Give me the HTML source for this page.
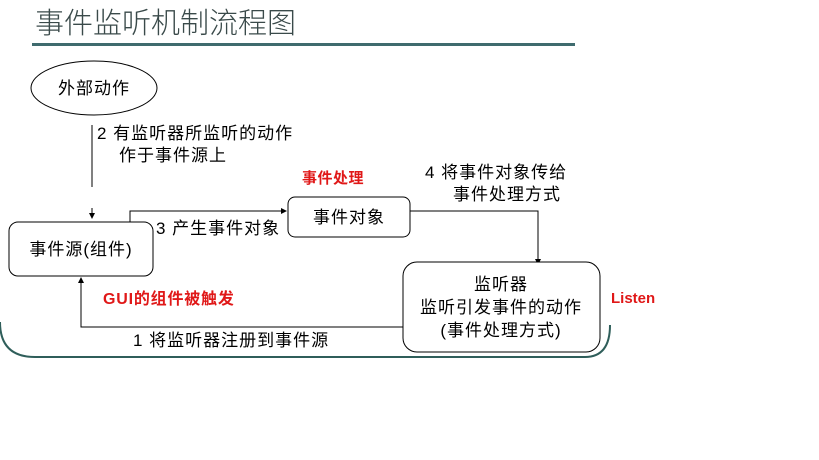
<!DOCTYPE html>
<html><head><meta charset="utf-8"><style>
html,body{margin:0;padding:0;background:#fff;}
svg{display:block;font-family:"Liberation Sans","Noto Sans CJK SC",sans-serif;}
.t{font-size:17px;letter-spacing:1px;}
</style></head><body>
<svg width="819" height="460" viewBox="0 0 819 460" xmlns="http://www.w3.org/2000/svg">
<defs><marker id="a" markerWidth="6" markerHeight="6" refX="5" refY="3" orient="auto"><path d="M0,0 L6,3 L0,6 z" fill="#000"/></marker></defs>
<text x="35" y="33" font-size="29" fill="#3a4a4a" font-family="'Noto Sans CJK SC',sans-serif" font-weight="300">事件监听机制流程图</text>
<rect x="32" y="43" width="543" height="3" fill="#3f6b6e"/>
<path d="M0,322 Q0,357 35,357 L585,357 Q610,357 610,325" fill="none" stroke="#2f5e5a" stroke-width="2"/>
<ellipse cx="94" cy="88" rx="63" ry="27" fill="#fff" stroke="#000" stroke-width="1"/>
<text x="94" y="94" class="t" text-anchor="middle">外部动作</text>
<line x1="92" y1="125" x2="92" y2="187" stroke="#000"/>
<line x1="92" y1="208" x2="92" y2="218" stroke="#000" marker-end="url(#a)"/>
<text x="97" y="139" class="t">2  有监听器所监听的动作</text>
<text x="119" y="161" class="t">作于事件源上</text>
<rect x="9" y="222" width="144" height="54" rx="9" fill="#fff" stroke="#000"/>
<text x="81" y="255" class="t" text-anchor="middle">事件源(组件)</text>
<polyline points="130,222 130,211 286,211" fill="none" stroke="#000" marker-end="url(#a)"/>
<text x="156" y="234" class="t">3 产生事件对象</text>
<rect x="288" y="197" width="122" height="40" rx="7" fill="#fff" stroke="#000"/>
<text x="349" y="223" class="t" text-anchor="middle">事件对象</text>
<text x="302" y="183" font-size="15" letter-spacing="0.5" font-weight="bold" fill="#e01818">事件处理</text>
<text x="425" y="178" class="t">4 将事件对象传给</text>
<text x="453" y="200" class="t">事件处理方式</text>
<polyline points="410,211 538,211 538,264" fill="none" stroke="#000" marker-end="url(#a)"/>
<rect x="403" y="262" width="197" height="90" rx="14" fill="#fff" stroke="#000"/>
<text x="501" y="290" class="t" text-anchor="middle">监听器</text>
<text x="501" y="313" class="t" text-anchor="middle">监听引发事件的动作</text>
<text x="501" y="336" class="t" text-anchor="middle">(事件处理方式)</text>
<text x="611" y="303" font-size="15" font-weight="bold" fill="#e01818">Listen</text>
<polyline points="403,327 81,327 81,278" fill="none" stroke="#000" marker-end="url(#a)"/>
<text x="103" y="304" font-size="16" letter-spacing="0.8" font-weight="bold" fill="#e01818">GUI的组件被触发</text>
<text x="133" y="346" class="t">1  将监听器注册到事件源</text>
</svg>
</body></html>
